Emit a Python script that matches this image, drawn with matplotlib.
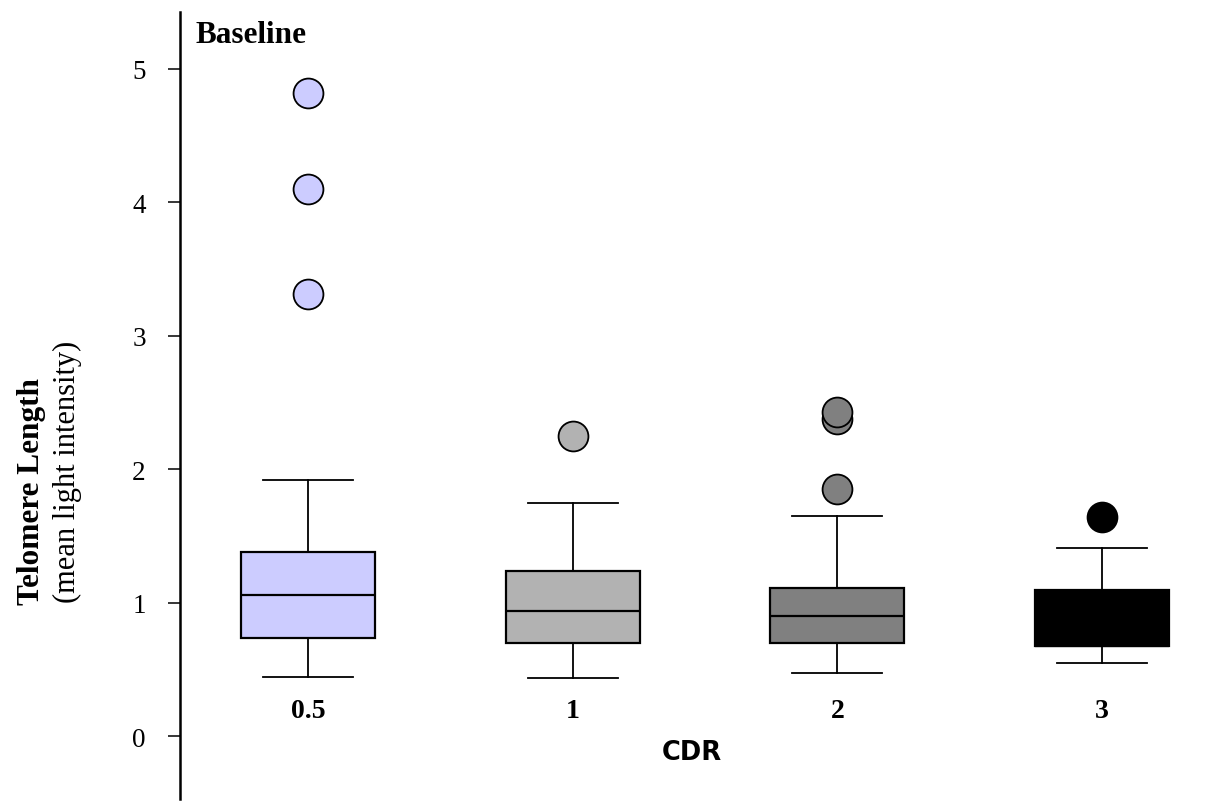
import matplotlib
matplotlib.use("Agg")
import matplotlib.pyplot as plt

categories = ["0.5", "1", "2", "3"]
q1 = [0.735, 0.697, 0.697, 0.677]
med = [1.057, 0.937, 0.900, 0.677]
q3 = [1.380, 1.237, 1.110, 1.097]
whislo = [0.440, 0.435, 0.470, 0.550]
whishi = [1.920, 1.747, 1.650, 1.410]
fliers = [[3.31, 4.10, 4.82], [2.25], [1.85, 2.38, 2.43], [1.64]]
colors = ["#ccccff", "#b2b2b2", "#808080", "#000000"]
yticks = [0, 1, 2, 3, 4, 5]

W, H = 1221, 803
fig = plt.figure(figsize=(W / 100, H / 100), dpi=100)
ax = fig.add_axes([180 / W, 3 / H, 1 - 180 / W, (800 - 13) / H])

serif = ["Liberation Serif", "DejaVu Serif"]

stats = []
for i, c in enumerate(categories):
    stats.append(dict(med=med[i], q1=q1[i], q3=q3[i], whislo=whislo[i],
                      whishi=whishi[i], fliers=[], label=c))
positions = list(range(1, len(categories) + 1))
bp = ax.bxp(stats, positions=positions, widths=0.506, patch_artist=True,
            showfliers=False, capwidths=0.34,
            boxprops=dict(linewidth=1.6, edgecolor="black"),
            medianprops=dict(color="black", linewidth=1.6),
            whiskerprops=dict(color="black", linewidth=1.3),
            capprops=dict(color="black", linewidth=1.3))
for patch, col in zip(bp["boxes"], colors):
    patch.set_facecolor(col)

for p, fl, col in zip(positions, fliers, colors):
    ax.plot([p] * len(fl), fl, linestyle="none", marker="o", markersize=21.5,
            markerfacecolor=col, markeredgecolor="black", markeredgewidth=1.3,
            zorder=3)

for p, c in zip(positions, categories):
    ax.text(p, 0.14, c, ha="center", va="baseline", fontsize=20,
            fontweight="bold", family=serif)

ax.set_xlim(0.5164, 4.4496)
ax.set_ylim(-0.472, 5.427)
ax.set_yticks(yticks)
ax.set_yticklabels([str(t) for t in yticks], family=serif, fontsize=19.5)
ax.set_xticks([])
for s in ["top", "right", "bottom"]:
    ax.spines[s].set_visible(False)
ax.spines["left"].set_linewidth(1.8)
ax.tick_params(axis="y", direction="out", length=8.6, width=1.1, pad=16)

fig.text(195 / W, 1 - 43 / H, "Baseline", ha="left", va="baseline",
         fontsize=22.5, fontweight="bold", family=serif)
fig.text(692 / W, 1 - 753 / H, "CDR", ha="center", va="center",
         fontsize=18.5, fontweight="bold", family=["DejaVu Sans"])
fig.text(32 / W, 1 - 605 / H, "Telomere Length", rotation=90, ha="center",
         va="bottom", fontsize=22.5, fontweight="bold", family=serif)
fig.text(67 / W, 1 - 603 / H, "(mean light intensity)", rotation=90,
         ha="center", va="bottom", fontsize=22, family=serif)

fig.savefig("out.png", dpi=100)
